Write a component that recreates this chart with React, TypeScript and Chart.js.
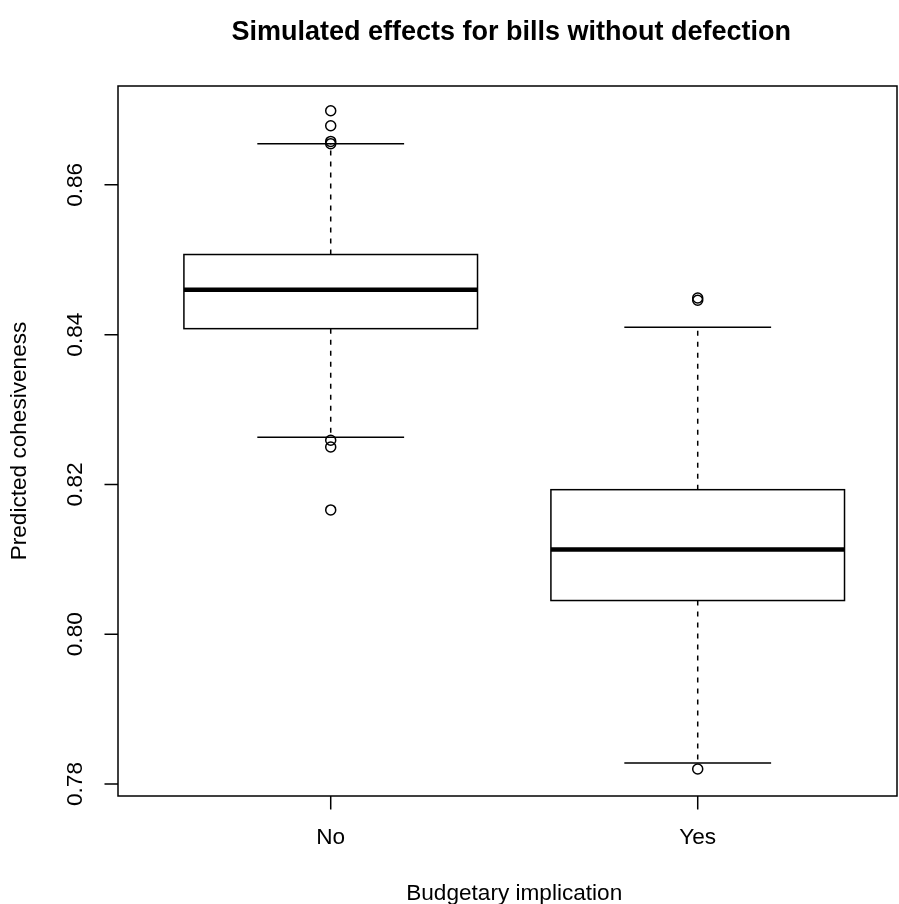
import React, { useEffect, useRef } from 'react';
import { Chart, registerables } from 'chart.js';

Chart.register(...registerables);

// ---- data ----
const categories = ['No', 'Yes'];
const categoryPositions = [1, 2];
const whiskerLow = [0.8263, 0.7828];
const q1 = [0.8408, 0.8045];
const medians = [0.846, 0.8113];
const q3 = [0.8507, 0.8193];
const whiskerHigh = [0.8655, 0.841];
const outliersNo = [0.8699, 0.8679, 0.8658, 0.8655, 0.8259, 0.825, 0.8166];
const outliersYes = [0.8449, 0.8446, 0.782];
const yTicks = [0.78, 0.8, 0.82, 0.84, 0.86];

const titleText = 'Simulated effects for bills without defection';
const xTitle = 'Budgetary implication';
const yTitle = 'Predicted cohesiveness';

const FONT = '"Liberation Sans", Arial, Helvetica, sans-serif';
const BASE = 22.6;

const rPlugin = {
  id: 'rBoxplot',
  beforeDatasetsDraw(chart: any) {
    const { ctx, scales } = chart;
    const x = scales.x;
    const y = scales.y;
    ctx.save();
    ctx.strokeStyle = '#000';
    categoryPositions.forEach((pos, i) => {
      const cx = x.getPixelForValue(pos);
      const bl = x.getPixelForValue(pos - 0.4);
      const br = x.getPixelForValue(pos + 0.4);
      const sl = x.getPixelForValue(pos - 0.2);
      const sr = x.getPixelForValue(pos + 0.2);
      const yLo = y.getPixelForValue(whiskerLow[i]);
      const yQ1 = y.getPixelForValue(q1[i]);
      const yMed = y.getPixelForValue(medians[i]);
      const yQ3 = y.getPixelForValue(q3[i]);
      const yHi = y.getPixelForValue(whiskerHigh[i]);
      // dashed whiskers
      ctx.lineWidth = 1.5;
      ctx.setLineDash([5, 6]);
      ctx.beginPath();
      ctx.moveTo(cx, yQ3);
      ctx.lineTo(cx, yHi);
      ctx.moveTo(cx, yQ1);
      ctx.lineTo(cx, yLo);
      ctx.stroke();
      ctx.setLineDash([]);
      // staples
      ctx.beginPath();
      ctx.moveTo(sl, yHi);
      ctx.lineTo(sr, yHi);
      ctx.moveTo(sl, yLo);
      ctx.lineTo(sr, yLo);
      ctx.stroke();
      // box
      ctx.fillStyle = '#fff';
      ctx.fillRect(bl, yQ3, br - bl, yQ1 - yQ3);
      ctx.strokeRect(bl, yQ3, br - bl, yQ1 - yQ3);
      // median
      ctx.lineWidth = 4.5;
      ctx.beginPath();
      ctx.moveTo(bl, yMed);
      ctx.lineTo(br, yMed);
      ctx.stroke();
    });
    ctx.restore();
  },
  afterDraw(chart: any) {
    const { ctx, scales, chartArea } = chart;
    const x = scales.x;
    const y = scales.y;
    const tickLen = 13.5;
    ctx.save();
    ctx.strokeStyle = '#000';
    ctx.fillStyle = '#000';
    ctx.lineWidth = 1.5;
    // frame
    ctx.strokeRect(chartArea.left, chartArea.top, chartArea.right - chartArea.left, chartArea.bottom - chartArea.top);
    // y axis ticks
    ctx.beginPath();
    yTicks.forEach((v) => {
      const py = y.getPixelForValue(v);
      ctx.moveTo(chartArea.left, py);
      ctx.lineTo(chartArea.left - tickLen, py);
    });
    // x axis ticks
    categoryPositions.forEach((p) => {
      const px = x.getPixelForValue(p);
      ctx.moveTo(px, chartArea.bottom);
      ctx.lineTo(px, chartArea.bottom + tickLen);
    });
    ctx.stroke();

    ctx.font = `${BASE}px ${FONT}`;
    // y tick labels (rotated)
    yTicks.forEach((v) => {
      const py = y.getPixelForValue(v);
      ctx.save();
      ctx.translate(chartArea.left - 42, py);
      ctx.rotate(-Math.PI / 2);
      ctx.textAlign = 'center';
      ctx.textBaseline = 'middle';
      ctx.fillText(v.toFixed(2), 0, 0);
      ctx.restore();
    });
    // x tick labels
    ctx.textAlign = 'center';
    ctx.textBaseline = 'middle';
    categoryPositions.forEach((p, i) => {
      ctx.fillText(categories[i], x.getPixelForValue(p), chartArea.bottom + 42);
    });
    const midX = x.getPixelForValue(1.5);
    // x title
    ctx.fillText(xTitle, midX, chartArea.bottom + 98);
    // y title
    ctx.save();
    ctx.translate(20, (chartArea.top + chartArea.bottom) / 2);
    ctx.rotate(-Math.PI / 2);
    ctx.fillText(yTitle, 0, 0);
    ctx.restore();
    // main title
    ctx.font = `bold 27px ${FONT}`;
    ctx.fillText(titleText, midX - 3, 33);
    ctx.restore();
  },
};

export default function App() {
  const canvasRef = useRef<HTMLCanvasElement | null>(null);

  useEffect(() => {
    const canvas = canvasRef.current;
    if (!canvas) return;
    const outlierPoints = [
      ...outliersNo.map((v) => ({ x: categoryPositions[0], y: v })),
      ...outliersYes.map((v) => ({ x: categoryPositions[1], y: v })),
    ];
    const chart = new Chart(canvas, {
      type: 'scatter',
      data: {
        datasets: [
          {
            label: 'outliers',
            data: outlierPoints,
            pointStyle: 'circle',
            pointRadius: 5,
            pointBorderWidth: 1.5,
            pointBorderColor: '#000',
            pointBackgroundColor: 'rgba(0,0,0,0)',
            showLine: false,
          } as any,
        ],
      },
      options: {
        animation: false,
        responsive: false,
        devicePixelRatio: 1,
        layout: { autoPadding: false, padding: { left: 118, right: 2, top: 86, bottom: 108 } },
        plugins: {
          legend: { display: false },
          tooltip: { enabled: false },
          title: { display: false },
        },
        scales: {
          x: { type: 'linear', display: false, min: 0.4204, max: 2.543 },
          y: { type: 'linear', display: false, min: 0.7784, max: 0.8732 },
        },
      },
      plugins: [rPlugin],
    });
    return () => chart.destroy();
  }, []);

  return (
    <div style={{ position: 'absolute', left: 0, top: 0, width: 899, height: 904, background: '#fff' }}>
      <canvas ref={canvasRef} width={899} height={904} style={{ display: 'block' }} />
    </div>
  );
}
